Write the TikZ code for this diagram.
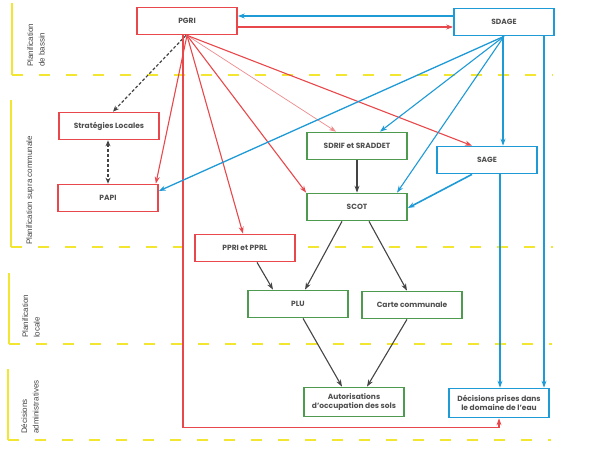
\documentclass[tikz,border=0pt]{standalone}
\usepackage{fontspec}
\setmainfont{Poppins}
\newfontfamily\labfont{Liberation Sans}
\usetikzlibrary{arrows.meta,calc}
\definecolor{rd}{HTML}{E8484B}
\definecolor{gn}{HTML}{4E9A4E}
\definecolor{bl}{HTML}{1E9AD6}
\definecolor{yl}{HTML}{F2E630}
\definecolor{tx}{HTML}{505050}
\definecolor{pk}{HTML}{EE8A8C}
\definecolor{gr}{HTML}{444444}
\begin{document}
\begin{tikzpicture}[x=1pt,y=-1pt,
  box/.style={draw,line width=1.7pt,minimum width=100pt,minimum height=27pt,inner sep=1pt,
    font=\fontsize{7.5}{9.5}\selectfont\bfseries,text=tx,align=center,fill=white},
  rbox/.style={box,draw=rd},
  gbox/.style={box,draw=gn},
  bbox/.style={box,draw=bl},
  ar/.style={-{Stealth[length=7pt,width=5pt]}},
  rl/.style={ar,draw=rd,line width=1.1pt},
  pl/.style={ar,draw=pk,line width=0.7pt},
  bline/.style={ar,draw=bl,line width=1.1pt},
  gl/.style={ar,draw=gr,line width=1.1pt},
  dl/.style={draw=gr,line width=1.2pt,dash pattern=on 3pt off 2pt},
  ysep/.style={draw=yl,line width=2.4pt,dash pattern=on 11pt off 16pt},
  ybar/.style={draw=yl,line width=2.2pt},
  lab/.style={rotate=90,anchor=west,align=left,font=\labfont\fontsize{8}{11.5}\selectfont,text=gr,inner sep=0pt}
]
\useasboundingbox (0,0) rectangle (591,458);

% section separators
\draw[ybar] (12,3) -- (12,75);
\draw[ysep] (12,75) -- (553,75);
\draw[ybar] (11,100) -- (11,247);
\draw[ysep] (11,247) -- (553,247);
\draw[ybar] (9,273) -- (9,344);
\draw[ysep] (9,344) -- (552,344);
\draw[ybar] (8,369) -- (8,440);
\draw[ysep] (8,440) -- (551,440);

\node[lab] (l1) at (36,67) {Planification\\de bassin};
\node[lab] (l2) at (30,245) {Planification supra communale};
\node[lab] (l3) at (31,338) {Planification\\locale};
\node[lab] (l4) at (30,434) {Décisions\\administratives};

% boxes
\node[rbox] (pgri) at (187,21) {PGRI};
\node[bbox] (sdage) at (504,22) {SDAGE};
\node[rbox] (strat) at (109,126) {Stratégies Locales};
\node[rbox] (papi) at (108,198) {PAPI};
\node[gbox] (sdrif) at (357,146) {SDRIF et SRADDET};
\node[bbox] (sage) at (487,160) {SAGE};
\node[gbox] (scot) at (357,207) {SCOT};
\node[rbox] (ppri) at (245,248) {PPRI et PPRL};
\node[gbox] (plu) at (298,304) {PLU};
\node[gbox] (carte) at (412,305) {Carte communale};
\node[gbox,minimum height=29pt] (auto) at (354,402) {Autorisations\\d'occupation des sols};
\node[bbox,minimum height=29pt] (dec) at (499,403) {Décisions prises dans\\le domaine de l'eau};

% PGRI <-> SDAGE
\coordinate (b1) at ($(sdage.west)+(0,-6)$);
\draw[bline] (b1) -- (b1 -| pgri.east);
\coordinate (r1) at ($(pgri.east)+(0,6)$);
\draw[rl] (r1) -- (r1 -| sdage.west);

% PGRI fan
\draw[dl,-{Stealth[length=6pt,width=5pt]}] ($(pgri.south)+(-1,0)$) -- ($(strat.north)+(4,0)$);
\draw[dl,{Stealth[length=6pt,width=5pt]}-{Stealth[length=6pt,width=5pt]}] ($(strat.south)+(-1,0)$) -- ($(papi.north)+(0,0)$);
\draw[rl] (pgri.south) -- ($(papi.north east)+(-3,0)$);
\draw[rl] ($(pgri.south)+(-4,0)$) -- ++(0,392) -| (dec.south);
\draw[rl] (pgri.south) -- ($(ppri.north)+(-2,0)$);
\draw[rl] (pgri.south) -- (scot.north west);
\draw[pl] (pgri.south) -- ($(sdrif.north)+(-21,0)$);
\draw[rl] (pgri.south) -- ($(sage.north)+(-15,0)$);

% SDAGE fan
\draw[bline,line width=1.3pt] (sdage.south) -- ($(papi.east)+(0,-7)$);
\draw[bline] (sdage.south) -- ($(sdrif.north)+(23,0)$);
\draw[bline] (sdage.south) -- ($(scot.north)+(40,0)$);
\draw[bline] ($(sdage.south)+(-1,0)$) -- ($(sage.north)+(16,0)$);
\draw[bline] ($(sdage.south)+(40,0)$) -- ($(dec.north)+(45,0)$);
\draw[bline] ($(sage.south)+(13,0)$) -- ($(dec.north)+(1,0)$);
\draw[bline,line width=1.6pt] ($(sage.south)+(-15,0)$) -- ($(scot.east)+(0,1)$);

% gray flows
\draw[gl] (sdrif.south) -- (scot.north);
\draw[gl] ($(ppri.south)+(12,0)$) -- ($(plu.north)+(-25,0)$);
\draw[gl] ($(scot.south)+(-15,0)$) -- ($(plu.north)+(7,0)$);
\draw[gl] ($(scot.south)+(12,0)$) -- ($(carte.north)+(-5,0)$);
\draw[gl] ($(plu.south)+(5,0)$) -- ($(auto.north)+(-12,0)$);
\draw[gl] ($(carte.south)+(-5,0)$) -- ($(auto.north)+(13,0)$);
\end{tikzpicture}
\end{document}
